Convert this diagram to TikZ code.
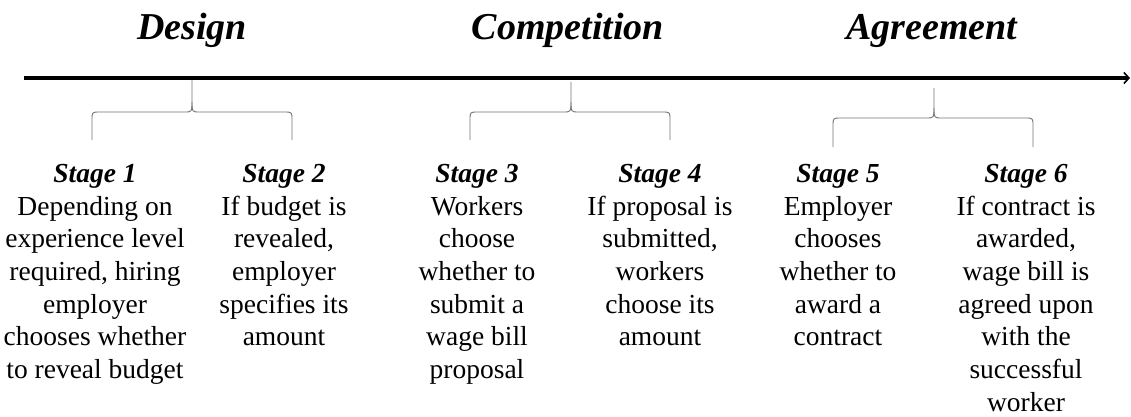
\documentclass[tikz,border=0pt]{standalone}
\usepackage{fontspec}
\setmainfont{Liberation Serif}
\usetikzlibrary{arrows.meta}
\newcommand{\mybrace}[6]{%
  \draw[bracestyle] (#2,#4) -- (#2,#5-10) .. controls (#2,#5) .. (#2-8,#5) -- (#1+8,#5) .. controls (#1,#5) .. (#1,#5+8) -- (#1,#6);
  \draw[bracestyle] (#2,#5-10) .. controls (#2,#5) .. (#2+8,#5) -- (#3-8,#5) .. controls (#3,#5) .. (#3,#5+8) -- (#3,#6);
}
\tikzset{
  bracestyle/.style={draw=black!55, line width=0.9pt},
  phase/.style={font=\fontsize{38}{42}\selectfont\bfseries\itshape, inner sep=0pt, anchor=base},
  stagebox/.style={font=\fontsize{27.5}{32.7}\selectfont, align=center, inner sep=0pt, anchor=north},
  timeline/.style={line width=3.3pt, -{Straight Barb[length=5pt,width=11pt,line width=1.6pt]}}
}
\begin{document}
\begin{tikzpicture}[x=1pt,y=-1pt]
\useasboundingbox (0,0) rectangle (1131,417);
% phase titles
\node[phase] (t1) at (192,40) {Design};
\node[phase] (t2) at (568,40) {Competition};
\node[phase] (t3) at (932,40) {Agreement};
% timeline
\coordinate (ls) at (24,78);
\coordinate (le) at (1130,78);
\draw[timeline] (ls) -- (le);
% braces
\mybrace{92}{192}{292}{80}{112}{140}
\mybrace{470}{571}{670}{82}{112}{140}
\mybrace{833}{934}{1033}{88}{118}{147}
% stages
\node[stagebox] (s1) at (95,164) {\textbf{\textit{Stage 1}}\\Depending on\\experience level\\required, hiring\\employer\\chooses whether\\to reveal budget};
\node[stagebox] (s2) at (284,164) {\textbf{\textit{Stage 2}}\\If budget is\\revealed,\\employer\\specifies its\\amount};
\node[stagebox] (s3) at (477,164) {\textbf{\textit{Stage 3}}\\Workers\\choose\\whether to\\submit a\\wage bill\\proposal};
\node[stagebox] (s4) at (660,164) {\textbf{\textit{Stage 4}}\\If proposal is\\submitted,\\workers\\choose its\\amount};
\node[stagebox] (s5) at (838,164) {\textbf{\textit{Stage 5}}\\Employer\\chooses\\whether to\\award a\\contract};
\node[stagebox] (s6) at (1026,164) {\textbf{\textit{Stage 6}}\\If contract is\\awarded,\\wage bill is\\agreed upon\\with the\\successful\\worker};
\end{tikzpicture}
\end{document}
